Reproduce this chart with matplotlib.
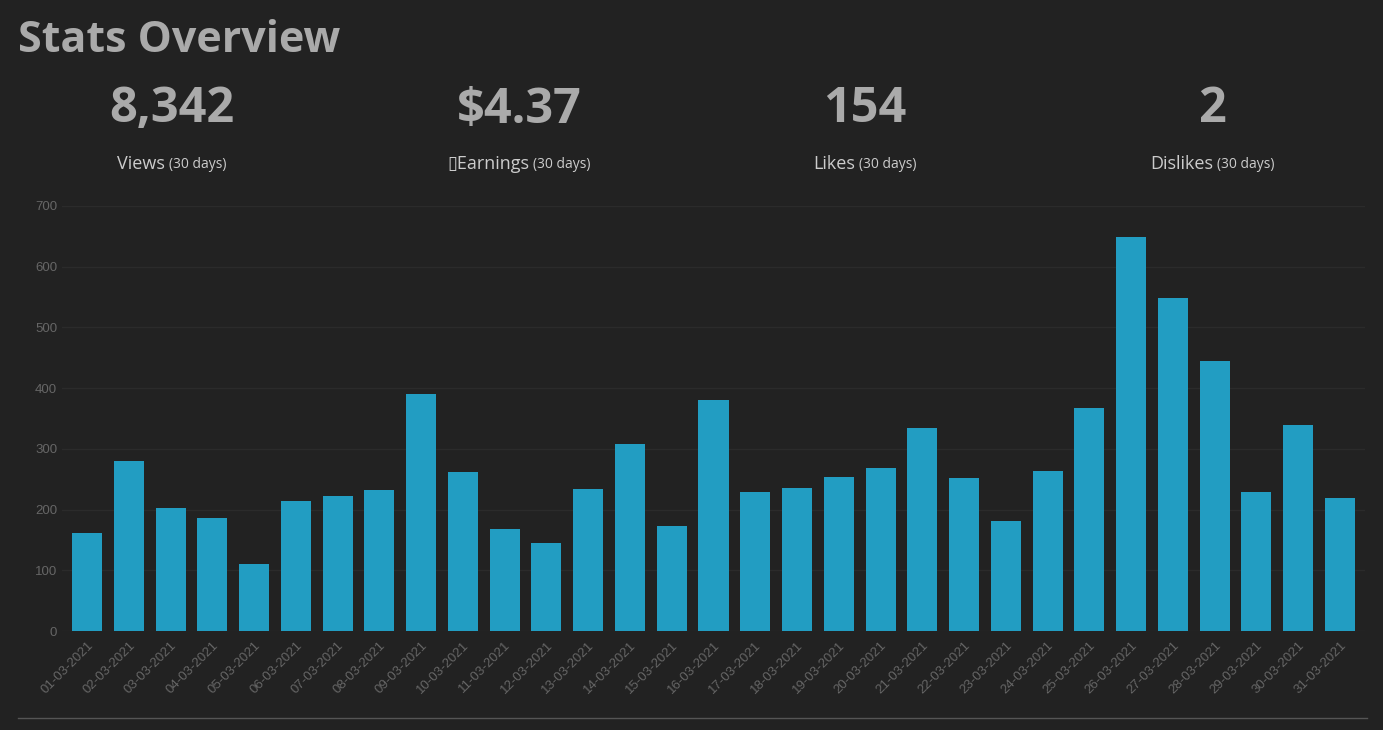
import matplotlib
matplotlib.use("Agg")
import matplotlib.pyplot as plt

dates = [f"{d:02d}-03-2021" for d in range(1, 32)]
views = [161, 280, 203, 186, 110, 214, 222, 232, 390, 262, 168, 145, 234, 308, 173, 381,
         229, 236, 254, 269, 334, 252, 181, 264, 367, 649, 549, 445, 229, 340, 219]
stat_values = ["8,342", "$4.37", "154", "2"]
stat_labels = ["Views", "\u25afEarnings", "Likes", "Dislikes"]

bg = "#222222"
fig = plt.figure(figsize=(13.83, 7.30), dpi=100, facecolor=bg)
ax = fig.add_axes([62/1383, 1-631/730, (1365-62)/1383, (631-206)/730], facecolor=bg)
ax.bar(range(len(views)), views, width=0.72, color="#229dc2")
ax.set_xlim(-0.6, len(views)-0.4)
ax.set_ylim(0, 700)
ax.set_yticks(range(0, 701, 100))
ax.set_xticks(range(len(views)))
ax.set_xticklabels(dates, rotation=45, ha="right", rotation_mode="anchor")
ax.tick_params(colors="#666666", labelsize=9.5, length=0)
for lab in ax.get_xticklabels() + ax.get_yticklabels():
    lab.set_family("Liberation Sans")
ax.tick_params(axis="x", pad=6)
for s in ax.spines.values():
    s.set_visible(False)
ax.grid(axis="y", color="#2b2b2b", lw=1)
ax.set_axisbelow(True)

fig.text(18/1383, 1-40/730, "Stats Overview", color="#aaaaaa", fontsize=31,
         fontweight="bold", va="center", family="Open Sans")
centers = [172, 519, 865, 1212]
fig.canvas.draw()
r = fig.canvas.get_renderer()
for c, v, l in zip(centers, stat_values, stat_labels):
    fig.text(c/1383, 1-110/730, v, color="#aaaaaa", fontsize=35, fontweight="bold",
             ha="center", va="center", family="Open Sans")
    t1 = fig.text(0, 1-164/730, l, color="#cccccc", fontsize=13,
                  ha="left", va="center", family=["Open Sans", "DejaVu Sans"])
    t2 = fig.text(0, 1-165/730, "(30 days)", color="#cccccc", fontsize=10,
                  ha="left", va="center", family="Open Sans")
    w1 = t1.get_window_extent(r).width
    w2 = t2.get_window_extent(r).width
    gap = 4
    x0 = c - (w1 + gap + w2) / 2
    t1.set_x(x0/1383)
    t2.set_x((x0 + w1 + gap)/1383)

fig.add_artist(plt.Line2D([18/1383, 1367/1383], [1-718/730]*2, color="#555555", lw=1))
fig.savefig("out.png", facecolor=bg)
